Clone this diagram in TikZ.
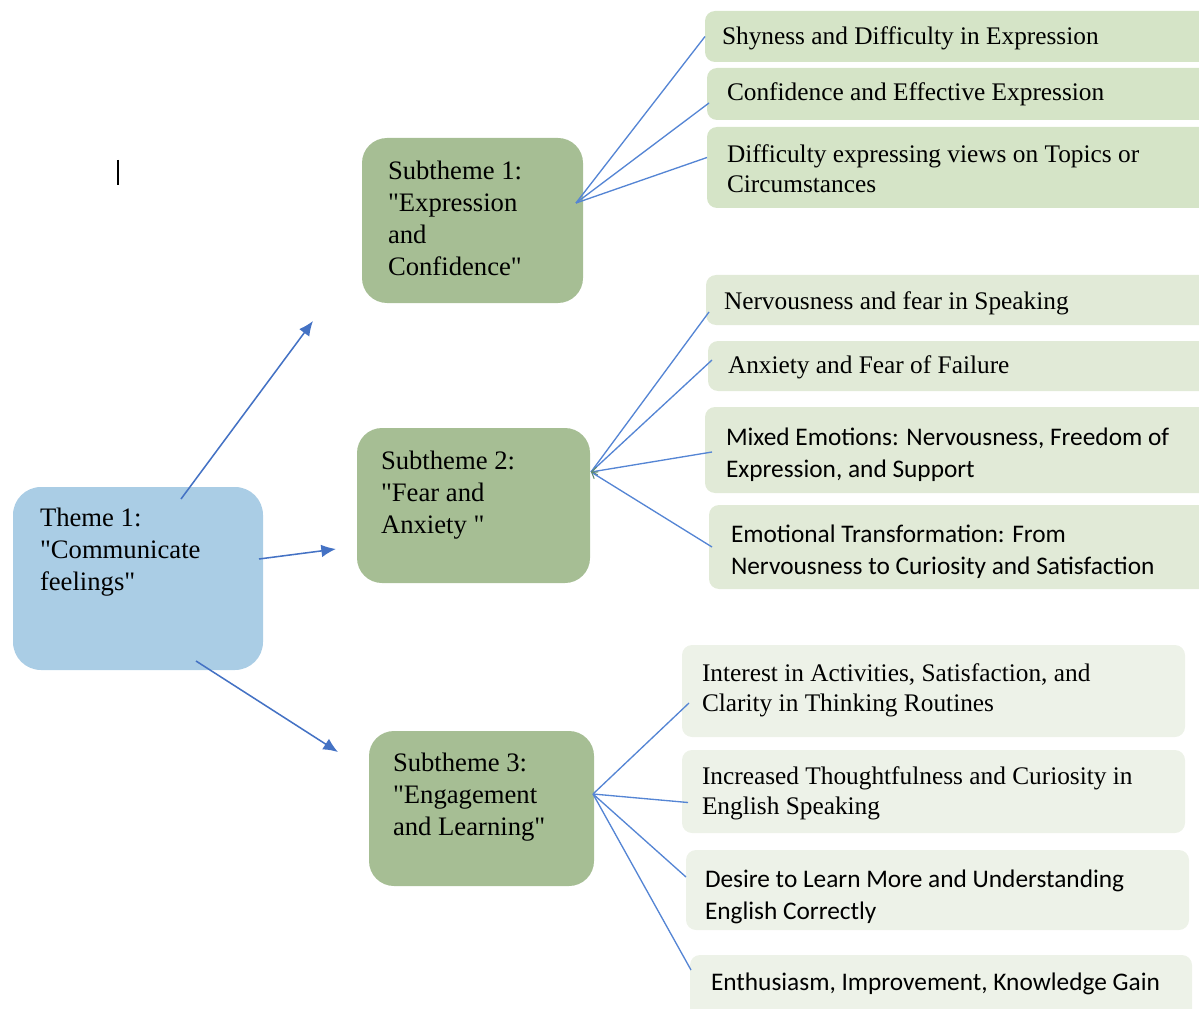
\documentclass[tikz,border=0pt]{standalone}
\usepackage{fontspec}
\setmainfont{Liberation Serif}[Ligatures=TeXOff]
\newfontfamily\leafsans{Carlito}
\usetikzlibrary{arrows.meta,calc}

\definecolor{themeblue}{HTML}{AACDE5}
\definecolor{subgreen}{HTML}{A6BE94}
\definecolor{leafA}{HTML}{D5E4C7}
\definecolor{leafB}{HTML}{E1EAD7}
\definecolor{leafC}{HTML}{EDF2E8}
\definecolor{arrowblue}{HTML}{4472C4}
\definecolor{linkblue}{HTML}{5585D4}
\definecolor{tipgreen}{HTML}{5E8A72}

\tikzset{
  box/.style={draw=none, anchor=north west, inner sep=0pt, outer sep=0pt},
  themebox/.style={box, fill=themeblue, rounded corners=21pt},
  subbox/.style={box, fill=subgreen, rounded corners=18.75pt},
  leafbox/.style={box, rounded corners=7.5pt},
  label/.style={anchor=north west, inner sep=0pt, outer sep=0pt, align=left, text=black},
  bigserif/.style={label, font=\fontsize{20}{24}\selectfont},
  leafserif/.style={label, font=\fontsize{19}{22.5}\selectfont},
  leafsansf/.style={label, font=\leafsans\fontsize{19}{24}\selectfont},
  mainarrow/.style={draw=arrowblue, line width=1.15pt, -{Latex[length=11pt,width=9.5pt]}},
  link/.style={draw=linkblue, line width=1pt},
  tiplink/.style={link, {Straight Barb[length=4pt,width=6pt,line width=0.8pt,color=tipgreen]}-}
}

\begin{document}
\begin{tikzpicture}[x=0.75pt, y=-0.75pt]
\useasboundingbox (0,0) rectangle (1199,1009);

% main theme
\node[themebox, minimum width=187.5pt, minimum height=137.25pt] (theme) at (13,487) {};
\node[bigserif] (ttheme) at (40,508) {Theme 1:\\"Communicate\\feelings"};

% subthemes
\node[subbox, minimum width=165.75pt, minimum height=123.75pt] (S1) at (362,138) {};
\node[bigserif] (tS1) at (388,161) {Subtheme 1:\\"Expression\\and\\Confidence"};
\node[subbox, minimum width=174.75pt, minimum height=116.25pt] (S2) at (357,428) {};
\node[bigserif] (tS2) at (381,451) {Subtheme 2:\\"Fear and\\Anxiety "};
\node[subbox, minimum width=168.75pt, minimum height=116.25pt] (S3) at (369,731) {};
\node[bigserif] (tS3) at (393,753) {Subtheme 3:\\"Engagement\\and Learning"};

% leaves of subtheme 1
\node[leafbox, fill=leafA, minimum width=382.5pt, minimum height=38.25pt] (L1) at (705,11) {};
\node[leafserif] (tL1) at (722,27) {Shyness and Difficulty in Expression};
\node[leafbox, fill=leafA, minimum width=381pt, minimum height=39pt] (L2) at (707,68) {};
\node[leafserif] (tL2) at (727,83) {Confidence and Effective Expression};
\node[leafbox, fill=leafA, minimum width=381pt, minimum height=60.75pt] (L3) at (707,127) {};
\node[leafserif] (tL3) at (727,145) {Difficulty expressing views on Topics or\\Circumstances};

% leaves of subtheme 2
\node[leafbox, fill=leafB, minimum width=381.75pt, minimum height=37.5pt] (L4) at (706,275) {};
\node[leafserif] (tL4) at (724,292) {Nervousness and fear in Speaking};
\node[leafbox, fill=leafB, minimum width=380.25pt, minimum height=37.5pt] (L5) at (708,341) {};
\node[leafserif] (tL5) at (728,356) {Anxiety and Fear of Failure};
\node[leafbox, fill=leafB, minimum width=382.5pt, minimum height=64.5pt] (L6) at (705,407) {};
\node[leafsansf] (tL6) at (726,428) {Mixed Emotions: Nervousness, Freedom of\\Expression, and Support};
\node[leafbox, fill=leafB, minimum width=379.5pt, minimum height=63pt] (L7) at (709,505) {};
\node[leafsansf] (tL7) at (731,525) {Emotional Transformation: From\\Nervousness to Curiosity and Satisfaction};

% leaves of subtheme 3
\node[leafbox, fill=leafC, minimum width=377.25pt, minimum height=69pt] (L8) at (682,645) {};
\node[leafserif] (tL8) at (702,664) {Interest in Activities, Satisfaction, and\\Clarity in Thinking Routines};
\node[leafbox, fill=leafC, minimum width=377.25pt, minimum height=62.25pt] (L9) at (682,750) {};
\node[leafserif] (tL9) at (702,767) {Increased Thoughtfulness and Curiosity in\\English Speaking};
\node[leafbox, fill=leafC, minimum width=377.25pt, minimum height=60pt] (L10) at (686,850) {};
\node[leafsansf] (tL10) at (705,870) {Desire to Learn More and Understanding\\English Correctly};
\node[leafbox, fill=leafC, minimum width=376.5pt, minimum height=52.5pt] (L11) at (690,955) {};
\node[leafsansf] (tL11) at (711,973) {Enthusiasm, Improvement, Knowledge Gain};

% hubs where the links leave each subtheme
\coordinate (h1) at ($(S1.east)+(-7,-17.5)$);
\coordinate (h2) at ($(S2.east)+(1,-33.5)$);
\coordinate (h3) at ($(S3.east)+(-1,-14.5)$);

% theme to subthemes
\draw[mainarrow] ($(theme.north)+(43,12)$) -- ($(S1.south west)+(-49,18)$);
\draw[mainarrow] ($(theme.east)+(-4,-19.5)$) -- ($(S2.west)+(-21,43.5)$);
\draw[mainarrow] ($(theme.south)+(58,-9)$) -- ($(S3.west)+(-31,-56.5)$);

% subtheme 1 links
\draw[link] (h1) -- (L1.west);
\draw[link] (h1) -- ($(L2.west)+(2,9)$);
\draw[link] (h1) -- ($(L3.west)+(0,-10)$);

% subtheme 2 links
\draw[link] (h2) -- ($(L4.west)+(3,12)$);
\draw[link] (h2) -- ($(L5.west)+(4,-6)$);
\draw[tiplink] (h2) -- ($(L6.west)+(7,2)$);
\draw[tiplink] (h2) -- ($(L7.west)+(3,0)$);

% subtheme 3 links
\draw[link] (h3) -- ($(L8.west)+(7,12)$);
\draw[link] (h3) -- ($(L9.west)+(6,11)$);
\draw[link] (h3) -- ($(L10.west)+(0,-13)$);
\draw[link] (h3) -- ($(L11.west)+(1,-20)$);

% text cursor mark
\draw[black, line width=1.1pt] (118,160) -- (118,185);
\end{tikzpicture}
\end{document}
